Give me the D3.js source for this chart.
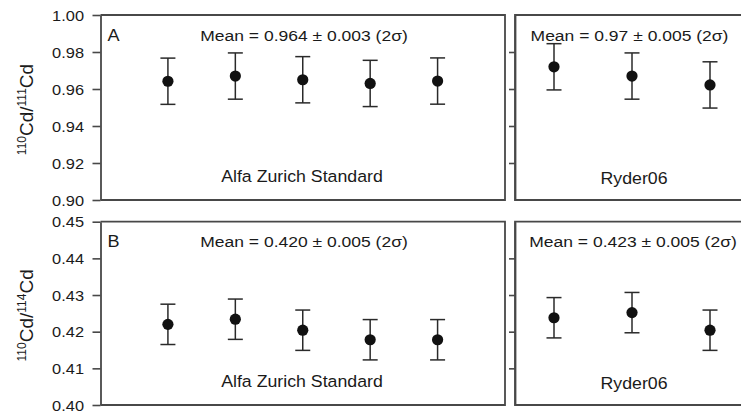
<!DOCTYPE html>
<html>
<head>
<meta charset="utf-8">
<script src="https://cdn.jsdelivr.net/npm/d3@7"></script>
<style>
  html, body { margin: 0; padding: 0; background: #fff; }
  svg { display: block; font-family: "Liberation Sans", Arial, sans-serif; }
</style>
</head>
<body>
<svg id="chart" width="741" height="416"></svg>
<script>
// Cd isotope ratios measured on the Alfa Zurich standard and the Ryder06 sample
const alfaRuns = [1, 2, 3, 4, 5];
const ryderRuns = [1, 2, 3];

const alfa110_111 = [0.9642, 0.9670, 0.9650, 0.9630, 0.9643];
const ryder110_111 = [0.9720, 0.9670, 0.9622];
const alfa110_114 = [0.4220, 0.4234, 0.4204, 0.4178, 0.4178];
const ryder110_114 = [0.4238, 0.4252, 0.4204];

const err110_111 = 0.0125;   // 2σ error of each run
const err110_114 = 0.0055;

const ticks110_111 = [0.90, 0.92, 0.94, 0.96, 0.98, 1.00];
const ticks110_114 = [0.40, 0.41, 0.42, 0.43, 0.44, 0.45];

const panelLetters = ["A", "B"];
const sampleNames = ["Alfa Zurich Standard", "Ryder06"];
const meanLabels110_111 = ["Mean = 0.964 \u00B1 0.003 (2\u03C3)", "Mean = 0.97 \u00B1 0.005 (2\u03C3)"];
const meanLabels110_114 = ["Mean = 0.420 \u00B1 0.005 (2\u03C3)", "Mean = 0.423 \u00B1 0.005 (2\u03C3)"];
const axisTitles = [["110", "Cd/", "111", "Cd"], ["110", "Cd/", "114", "Cd"]];

const svg = d3.select("#chart");
const frameColor = "#484848";
const markColor = "#111";
const textColor = "#1a1a1a";
const SX = 1.13; // horizontal text stretch

// Layout of the two columns
const leftX = [100.5, 505];
const rightX = [515, 749];
const xLeft = d3.scaleLinear().domain([0, 6]).range(leftX);
const xRight = d3.scaleLinear().domain([0.5, 3.5]).range(rightX);

const rows = [
  { top: 15, bottom: 200, ticks: ticks110_111, err: err110_111,
    left: alfa110_111, right: ryder110_111, means: meanLabels110_111,
    letter: panelLetters[0], title: axisTitles[0], meanRightX: 629.5 },
  { top: 221.7, bottom: 405, ticks: ticks110_114, err: err110_114,
    left: alfa110_114, right: ryder110_114, means: meanLabels110_114,
    letter: panelLetters[1], title: axisTitles[1], meanRightX: 633 }
];

function label(g, x, y, str, size, anchor) {
  g.append("text")
    .attr("transform", `translate(${x},${y}) scale(${SX},1)`)
    .attr("text-anchor", anchor || "middle")
    .attr("font-size", size)
    .attr("fill", textColor)
    .text(str);
}

function drawPoints(g, xs, ys, err, x, y) {
  const pts = g.append("g").selectAll("g").data(xs.map((d, i) => ({ run: d, v: ys[i] })))
    .join("g");
  pts.append("line")
    .attr("x1", d => x(d.run)).attr("x2", d => x(d.run))
    .attr("y1", d => y(d.v - err)).attr("y2", d => y(d.v + err))
    .attr("stroke", "#2a2a2a").attr("stroke-width", 1.5);
  [-1, 1].forEach(s => {
    pts.append("line")
      .attr("x1", d => x(d.run) - 7.5).attr("x2", d => x(d.run) + 7.5)
      .attr("y1", d => y(d.v + s * err)).attr("y2", d => y(d.v + s * err))
      .attr("stroke", "#2a2a2a").attr("stroke-width", 1.5);
  });
  pts.append("circle")
    .attr("cx", d => x(d.run)).attr("cy", d => y(d.v))
    .attr("r", 5.6).attr("fill", markColor);
}

rows.forEach((row, ri) => {
  const y = d3.scaleLinear()
    .domain([row.ticks[0], row.ticks[row.ticks.length - 1]])
    .range([row.bottom, row.top]);

  // Left panel: framed box with labelled axis
  const gl = svg.append("g");
  const axL = gl.append("g")
    .attr("transform", `translate(${leftX[0]},0)`)
    .call(d3.axisLeft(y).tickValues(row.ticks).tickFormat(d3.format(".2f"))
      .tickSize(8).tickSizeOuter(0));
  axL.select(".domain").attr("stroke", frameColor).attr("stroke-width", 1.8);
  axL.selectAll(".tick line").attr("stroke", frameColor).attr("stroke-width", 1.6);
  axL.selectAll(".tick text")
    .attr("x", null).attr("dy", null)
    .attr("transform", `translate(-16.5,5.2) scale(1.13,1)`)
    .attr("font-size", 14.5).attr("fill", textColor)
    .attr("font-family", "Liberation Sans, Arial, sans-serif");

  gl.append("path")
    .attr("d", `M${leftX[0]},${row.top}H${leftX[1]}V${row.bottom}H${leftX[0]}`)
    .attr("fill", "none").attr("stroke", frameColor).attr("stroke-width", 1.8);

  drawPoints(gl, alfaRuns, row.left, row.err, xLeft, y);
  label(gl, leftX[0] + 7, row.top + 25.5, row.letter, 16, "start");
  label(gl, 304, row.top + 25.5, row.means[0], 15.5);
  label(gl, 302, row.bottom - 18, sampleNames[0], 15.7);

  // Right panel: shares the scale, ticks without labels
  const gr = svg.append("g");
  const axR = gr.append("g")
    .attr("transform", `translate(${rightX[0]},0)`)
    .call(d3.axisLeft(y).tickValues(row.ticks.slice(1, -1)).tickFormat("")
      .tickSize(6).tickSizeOuter(0));
  axR.select(".domain").attr("stroke", frameColor).attr("stroke-width", 1.8);
  axR.selectAll(".tick line").attr("stroke", frameColor).attr("stroke-width", 1.6);
  gr.append("path")
    .attr("d", `M${rightX[1]},${row.top}H${rightX[0]}V${row.bottom}H${rightX[1]}`)
    .attr("fill", "none").attr("stroke", frameColor).attr("stroke-width", 1.8);

  drawPoints(gr, ryderRuns, row.right, row.err, xRight, y);
  label(gr, row.meanRightX, row.top + 25.5, row.means[1], 15.5);
  label(gr, 634, row.bottom - 16, sampleNames[1], 15.7);

  // Rotated axis title with superscript mass numbers
  const t = svg.append("text")
    .attr("transform", `translate(33,${(row.top + row.bottom) / 2 + 2}) rotate(-90)`)
    .attr("text-anchor", "middle")
    .attr("font-size", 19)
    .attr("fill", textColor);
  t.append("tspan").attr("font-size", 12).attr("dy", -7).text(row.title[0]);
  t.append("tspan").attr("dy", 7).text(row.title[1]);
  t.append("tspan").attr("font-size", 12).attr("dy", -7).text(row.title[2]);
  t.append("tspan").attr("dy", 7).text(row.title[3]);
});
</script>
</body>
</html>
